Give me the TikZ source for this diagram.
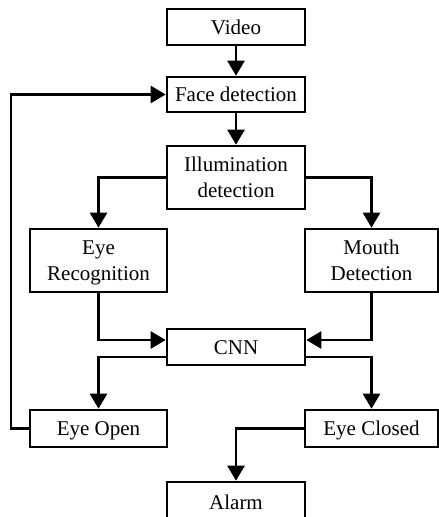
\documentclass[tikz,border=0pt]{standalone}
\usepackage{fontspec}
\setmainfont{Liberation Serif}
\usetikzlibrary{arrows.meta,calc}
\newcommand\mystrut{\rule[-4pt]{0pt}{22pt}}
\begin{document}
\begin{tikzpicture}[x=1pt,y=-1pt,
  box/.style={draw,line width=2.6pt,align=center,inner sep=0pt,font=\fontsize{21}{26}\selectfont},
  link/.style={line width=2.6pt,-{Triangle[length=15pt,width=17pt]}}]
\useasboundingbox (0,0) rectangle (439,517);
\clip (0,0) rectangle (439,517);
\node[box,minimum width=138pt,minimum height=36pt] (video) at (236,27) {Video\mystrut};
\node[box,minimum width=138pt,minimum height=35pt] (face) at (236,94.5) {Face detection\mystrut};
\node[box,minimum width=138pt,minimum height=63pt] (illum) at (236,177.5) {Illumination\mystrut\\detection\mystrut};
\node[box,minimum width=137pt,minimum height=63pt] (eyerec) at (98.5,260.5) {Eye\mystrut\\Recognition\mystrut};
\node[box,minimum width=133pt,minimum height=63pt] (mouth) at (371.5,260.5) {Mouth\mystrut\\Detection\mystrut};
\node[box,minimum width=138pt,minimum height=36pt] (cnn) at (236,347) {CNN\mystrut};
\node[box,minimum width=137pt,minimum height=37pt] (eyeopen) at (98.5,428.5) {Eye Open\mystrut};
\node[box,minimum width=133pt,minimum height=37pt] (eyeclosed) at (371.5,428.5) {Eye Closed\mystrut};
\node[box,minimum width=138pt,minimum height=40pt] (alarm) at (236,502) {Alarm\mystrut};
\coordinate (loop) at (11,428.5);
\draw[link] (video) -- (face);
\draw[link] (face) -- (illum);
\draw[link] (illum.west) -| (eyerec.north);
\draw[link] (illum.east) -| (mouth.north);
\draw[link] (eyerec.south) |- ([yshift=7pt]cnn.west);
\draw[link] (mouth.south) |- ([yshift=7pt]cnn.east);
\draw[link] ([yshift=-10pt]cnn.west) -| (eyeopen.north);
\draw[link] ([yshift=-10pt]cnn.east) -| (eyeclosed.north);
\draw[link] (eyeclosed.west) -| (alarm.north);
\draw[link] (eyeopen.west) -- (loop) |- (face.west);
\end{tikzpicture}
\end{document}
